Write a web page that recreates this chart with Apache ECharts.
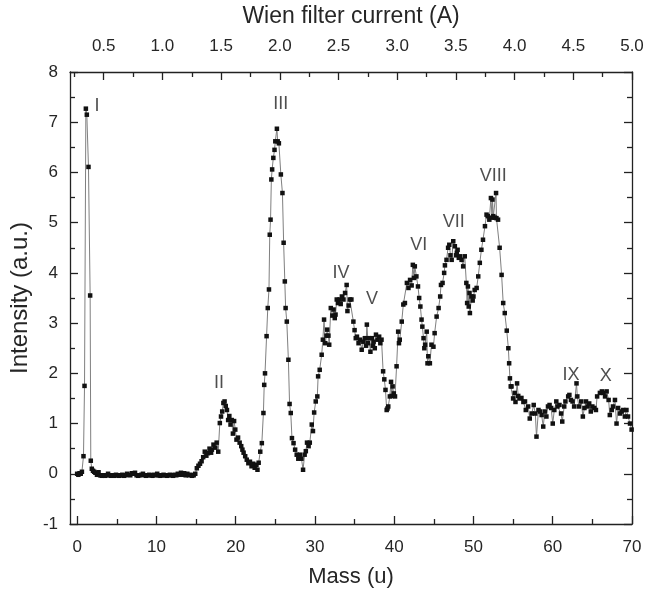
<!DOCTYPE html>
<html><head><meta charset="utf-8">
<script src="https://cdn.jsdelivr.net/npm/echarts@6/dist/echarts.min.js"></script>
<style>html,body{margin:0;padding:0;background:#fff}#c{width:647px;height:593px}</style>
</head><body><div id="c"></div>
<script>
// Spectrum: [mass (u), intensity (a.u.)]
const peakI = [[0.0,0.0],[0.15,-0.02],[0.3,0.01],[0.45,0.0],[0.6,0.04],[0.8,0.35],[0.93,1.75],[1.1,7.27],[1.22,7.15],[1.43,6.11],[1.64,3.55],[1.72,0.26],[1.85,0.1],[2.0,0.06],[2.15,0.04],[2.3,0.02]];
const baseline = [[2.5,-0.02],[2.7,0.03],[2.9,-0.03],[3.1,-0.04],[3.3,-0.03],[3.5,-0.04],[3.7,-0.03],[3.9,0.0],[4.1,-0.03],[4.3,-0.04],[4.5,-0.03],[4.7,-0.04],[4.9,-0.02],[5.1,-0.03],[5.3,-0.04],[5.5,-0.03],[5.7,-0.02],[5.9,-0.04],[6.1,-0.03],[6.3,0.0],[6.5,-0.02],[6.7,-0.03],[6.9,0.01],[7.1,0.0],[7.3,0.02],[7.5,-0.03],[7.7,-0.04],[7.9,-0.03],[8.1,-0.02],[8.3,0.0],[8.5,-0.03],[8.7,-0.04],[8.9,-0.03],[9.1,-0.02],[9.3,-0.03],[9.5,-0.04],[9.7,-0.02],[9.9,-0.03],[10.1,0.0],[10.3,-0.03],[10.5,-0.04],[10.7,-0.03],[10.9,-0.02],[11.1,-0.03],[11.3,-0.04],[11.5,-0.03],[11.7,-0.02],[11.9,-0.03],[12.1,-0.04],[12.3,-0.02],[12.5,-0.03],[12.7,0.0],[12.9,-0.02],[13.1,0.02],[13.3,-0.02],[13.5,0.01],[13.7,-0.03],[13.9,0.0],[14.1,-0.03],[14.3,-0.02],[14.5,-0.04],[14.7,-0.03],[14.9,0.0]];
const peakII = [[15.1,0.11],[15.3,0.16],[15.5,0.2],[15.7,0.25],[15.9,0.33],[16.1,0.44],[16.3,0.36],[16.5,0.41],[16.7,0.5],[16.9,0.42],[17.0,0.48],[17.2,0.58],[17.4,0.52],[17.6,0.62],[17.8,0.44],[18.0,1.01],[18.15,1.14],[18.3,1.24],[18.45,1.41],[18.6,1.44],[18.75,1.35],[18.9,1.27],[19.05,1.07],[19.2,1.15],[19.35,0.98],[19.5,1.07],[19.65,0.8],[19.8,1.05],[19.95,0.88],[20.1,0.68],[20.3,0.72],[20.5,0.62],[20.7,0.55],[20.85,0.48],[21.0,0.42],[21.2,0.35],[21.4,0.28],[21.6,0.21],[21.8,0.24],[22.0,0.15],[22.2,0.2],[22.4,0.12],[22.6,0.18],[22.75,0.08],[22.9,0.22]];
const peakIII = [[23.1,0.44],[23.3,0.61],[23.5,1.21],[23.6,1.77],[23.7,2.0],[23.9,2.74],[24.05,3.3],[24.2,3.67],[24.3,4.76],[24.4,5.06],[24.5,5.86],[24.6,6.06],[24.75,6.29],[24.9,6.45],[25.0,6.62],[25.2,6.87],[25.3,6.62],[25.45,6.58],[25.7,5.96],[25.9,5.59],[26.05,4.6],[26.2,3.83],[26.3,3.3],[26.45,3.03],[26.65,2.27],[26.8,1.39],[26.95,1.21],[27.1,0.71],[27.3,0.61],[27.5,0.48],[27.7,0.38],[27.9,0.3],[28.1,0.38],[28.3,0.3],[28.5,0.08],[28.7,0.38],[28.85,0.45],[29.0,0.62],[29.2,0.55],[29.35,0.62]];
const peaksIVtoV = [[29.6,0.98],[29.75,0.85],[29.9,1.22],[30.1,1.44],[30.3,1.54],[30.4,1.94],[30.6,2.07],[30.85,2.37],[31.0,2.67],[31.15,3.07],[31.3,2.6],[31.45,2.75],[31.55,2.87],[31.7,2.75],[31.8,2.57],[32.0,3.3],[32.2,3.15],[32.35,3.27],[32.5,3.1],[32.6,3.17],[32.75,3.47],[32.9,3.4],[33.1,3.47],[33.25,3.38],[33.4,3.53],[33.6,3.47],[33.8,3.6],[34.0,3.76],[34.1,3.24],[34.25,3.35],[34.4,3.47],[34.6,3.47],[34.85,3.03],[35.0,2.86],[35.15,2.7],[35.3,2.73],[35.5,2.6],[35.7,2.67],[35.9,2.47],[36.1,2.63],[36.3,2.7],[36.45,2.55],[36.55,2.97],[36.7,2.6],[36.8,2.7],[37.0,2.43],[37.2,2.7],[37.3,2.55],[37.4,2.63],[37.55,2.5],[37.7,2.77],[37.9,2.67],[38.1,2.73],[38.25,2.6],[38.4,2.67],[38.6,2.04],[38.75,1.88],[38.9,1.67],[39.05,1.27],[39.15,1.3],[39.25,1.34],[39.45,1.54],[39.6,1.83],[39.7,1.55],[39.8,1.74],[39.95,1.6],[40.1,1.54]];
const peaksVItoVIII = [[40.3,2.14],[40.5,2.83],[40.6,2.6],[40.7,2.67],[40.95,3.03],[41.15,3.37],[41.35,3.4],[41.6,3.8],[41.8,3.7],[42.0,3.86],[42.2,3.75],[42.35,4.16],[42.5,3.9],[42.6,4.13],[42.8,3.93],[43.0,3.73],[43.15,3.5],[43.3,3.33],[43.45,3.07],[43.55,2.93],[43.7,2.7],[43.8,2.5],[43.9,2.57],[44.1,2.83],[44.2,2.2],[44.3,2.34],[44.5,2.2],[44.7,2.57],[44.95,2.53],[45.1,2.8],[45.35,3.13],[45.6,3.3],[45.8,3.53],[45.9,3.76],[46.1,3.8],[46.3,4.0],[46.4,4.15],[46.6,4.26],[46.8,4.5],[46.95,4.56],[47.1,4.35],[47.25,4.26],[47.45,4.63],[47.65,4.53],[47.8,4.35],[47.9,4.4],[48.0,4.46],[48.15,4.3],[48.3,4.33],[48.5,4.26],[48.7,4.13],[48.9,4.33],[49.1,3.8],[49.2,3.4],[49.3,3.73],[49.4,3.33],[49.5,3.6],[49.55,3.2],[49.75,3.53],[49.9,3.45],[50.0,3.53],[50.15,3.66],[50.4,3.7],[50.6,3.93],[50.8,4.2],[51.0,4.46],[51.2,4.66],[51.45,4.93],[51.65,5.16],[51.8,5.13],[52.0,5.06],[52.2,5.49],[52.35,5.1],[52.4,5.46],[52.5,5.13],[52.7,5.1],[52.85,5.59],[52.9,5.09],[53.1,5.06],[53.3,4.5],[53.55,3.96],[53.75,3.4],[53.95,3.2],[54.2,2.85],[54.4,2.5],[54.5,2.2],[54.6,1.9],[54.7,1.74],[54.8,1.74]];
const tail = [[55.0,1.5],[55.2,1.61],[55.3,1.43],[55.5,1.8],[55.65,1.55],[55.8,1.5],[56.05,1.51],[56.3,1.43],[56.5,1.44],[56.6,1.27],[56.9,1.34],[57.1,1.1],[57.35,1.2],[57.6,1.37],[57.8,1.2],[57.95,0.74],[58.2,1.27],[58.4,1.24],[58.6,1.17],[58.8,0.94],[59.0,1.24],[59.2,1.14],[59.4,1.34],[59.6,1.37],[59.8,1.31],[60.0,1.0],[60.2,1.27],[60.45,1.44],[60.6,1.34],[60.85,1.37],[61.05,1.2],[61.2,1.04],[61.45,1.34],[61.6,1.44],[61.95,1.54],[62.1,1.57],[62.3,1.47],[62.5,1.44],[62.7,1.34],[63.0,1.8],[63.1,1.54],[63.3,1.34],[63.6,1.44],[63.8,1.14],[64.0,1.31],[64.2,1.44],[64.4,1.34],[64.6,1.4],[64.8,1.24],[65.0,1.34],[65.25,1.31],[65.45,1.27],[65.6,1.54],[65.95,1.61],[66.2,1.64],[66.4,1.61],[66.6,1.54],[66.8,1.64],[67.05,1.47],[67.2,1.17],[67.45,1.27],[67.6,1.34],[67.85,1.47],[68.05,1.0],[68.25,1.31],[68.5,1.2],[68.7,1.24],[68.9,1.27],[69.1,1.14],[69.3,1.27],[69.5,1.14],[69.75,1.0],[69.95,0.88]];

// Peak labels: [mass, intensity, text]
const peakLabels = [[2.5,7.33,'I'],[17.9,1.81,'II'],[25.7,7.37,'III'],[33.3,4.0,'IV'],[37.2,3.47,'V'],[43.1,4.56,'VI'],[47.5,5.02,'VII'],[52.5,5.92,'VIII'],[62.3,1.97,'IX'],[66.7,1.95,'X']];

const massTicks = [0,10,20,30,40,50,60,70];
const massMinorTicks = [5,15,25,35,45,55,65];
const currentTicks = [0.5,1.0,1.5,2.0,2.5,3.0,3.5,4.0,4.5,5.0];
const currentMinorTicks = [0.25,0.75,1.25,1.75,2.25,2.75,3.25,3.75,4.25,4.75];

const spectrum = [].concat(peakI, baseline, peakII, peakIII, peaksIVtoV, peaksVItoVIII, tail);

const FONT = 'Liberation Sans, Arial, sans-serif';
const TXT = '#262626';
const LINE = '#222';

const chart = echarts.init(document.getElementById('c'), null, {renderer: 'canvas'});
const axisLine = {show: true, onZero: false, lineStyle: {color: LINE, width: 1.3}};
const tickStyle = {inside: true, length: 8, lineStyle: {color: LINE, width: 1.3}};
const minorStyle = {inside: true, length: 5, lineStyle: {color: LINE, width: 1.3}};
const labelBase = {fontFamily: FONT, fontSize: 17, color: TXT};

chart.setOption({
  animation: false,
  backgroundColor: '#fff',
  grid: {left: 70, right: 15, top: 72, bottom: 68, containLabel: false},
  xAxis: [
    {
      type: 'value', position: 'bottom', min: -0.9, max: 70,
      name: 'Mass (u)', nameLocation: 'middle', nameGap: 42,
      nameTextStyle: {fontFamily: FONT, fontSize: 22, color: TXT},
      axisLine: axisLine,
      axisTick: Object.assign({customValues: massTicks}, tickStyle),
      axisLabel: Object.assign({customValues: massTicks, margin: 15}, labelBase),
      splitLine: {show: false}
    },
    {
      type: 'value', position: 'top', min: 0.213, max: 5.0,
      name: 'Wien filter current (A)', nameLocation: 'middle', nameGap: 44,
      nameTextStyle: {fontFamily: FONT, fontSize: 23, color: TXT},
      axisLine: axisLine,
      axisTick: Object.assign({customValues: currentTicks}, tickStyle),
      axisLabel: Object.assign({customValues: currentTicks, margin: 17, formatter: v => v.toFixed(1)}, labelBase),
      splitLine: {show: false}
    },
    {
      type: 'value', position: 'bottom', min: -0.9, max: 70,
      axisLine: {show: false, onZero: false}, axisLabel: {show: false},
      axisTick: Object.assign({customValues: massMinorTicks}, minorStyle),
      splitLine: {show: false}
    },
    {
      type: 'value', position: 'top', min: 0.213, max: 5.0,
      axisLine: {show: false, onZero: false}, axisLabel: {show: false},
      axisTick: Object.assign({customValues: currentMinorTicks}, minorStyle),
      splitLine: {show: false}
    }
  ],
  yAxis: [
    {
      type: 'value', position: 'left', min: -1, max: 8, interval: 1,
      name: 'Intensity (a.u.)', nameLocation: 'middle', nameGap: 38,
      nameTextStyle: {fontFamily: FONT, fontSize: 24, color: TXT},
      axisLine: axisLine,
      axisTick: tickStyle,
      minorTick: {show: true, splitNumber: 2, length: 5, lineStyle: {color: LINE, width: 1.3}},
      axisLabel: Object.assign({margin: 12}, labelBase),
      splitLine: {show: false}, minorSplitLine: {show: false}
    },
    {
      type: 'value', position: 'right', min: -1, max: 8, interval: 1,
      axisLine: axisLine,
      axisTick: tickStyle,
      minorTick: {show: true, splitNumber: 2, length: 5, lineStyle: {color: LINE, width: 1.3}},
      axisLabel: {show: false},
      splitLine: {show: false}, minorSplitLine: {show: false}
    }
  ],
  series: [
    {
      type: 'line', xAxisIndex: 0, yAxisIndex: 0,
      data: spectrum,
      showSymbol: true, showAllSymbol: true,
      symbol: 'rect', symbolSize: 4.5,
      itemStyle: {color: '#111'},
      lineStyle: {color: '#808080', width: 1},
      z: 3
    },
    {
      type: 'scatter', xAxisIndex: 0, yAxisIndex: 0,
      data: peakLabels.map(d => ({value: [d[0], d[1]], name: d[2]})),
      symbolSize: 0,
      itemStyle: {color: '#222'},
      label: {show: true, position: [0, 0], align: 'center', verticalAlign: 'middle',
        formatter: p => p.name,
        fontFamily: FONT, fontSize: 18, color: '#222', textBorderWidth: 0},
      silent: true, z: 4
    }
  ]
});
</script></body></html>
